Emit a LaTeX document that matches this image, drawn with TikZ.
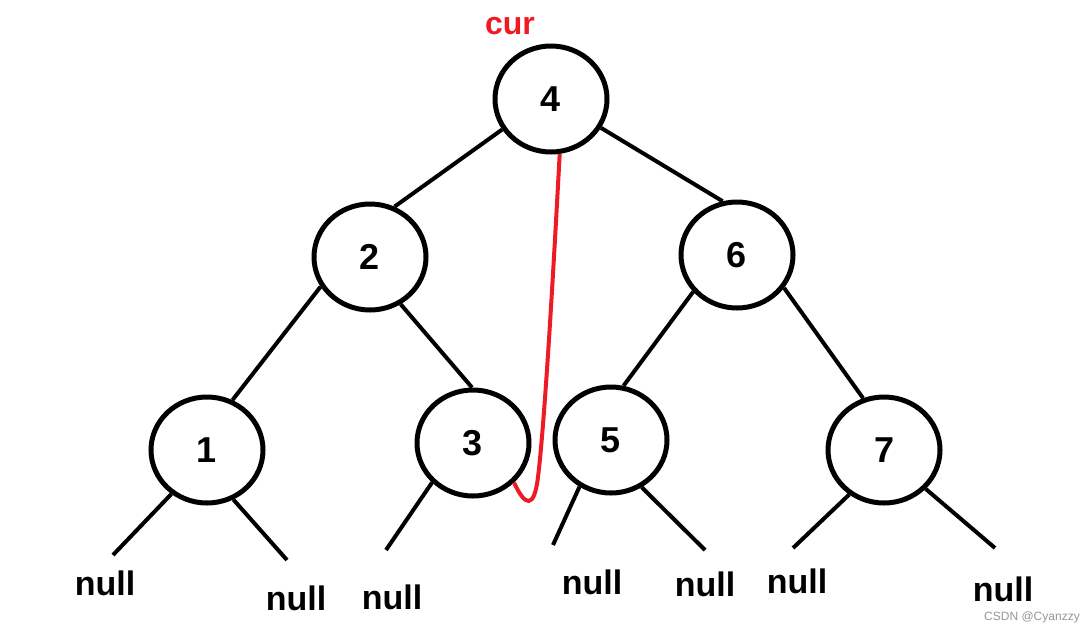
\documentclass[tikz,border=0pt]{standalone}
\usepackage{fontspec}
\setmainfont{Liberation Sans}
\usetikzlibrary{shapes.geometric}
\definecolor{curred}{RGB}{237,28,36}
\definecolor{markgray}{RGB}{150,150,150}

\begin{document}
\begin{tikzpicture}[x=1pt,y=-1pt,
  treenode/.style={ellipse,draw,line width=5pt,minimum width=112pt,minimum height=106pt,inner sep=0pt,font=\fontsize{36}{40}\selectfont\bfseries},
  nulltext/.style={inner sep=0pt,font=\fontsize{34}{38}\selectfont\bfseries},
  edge/.style={line width=4pt}]
\useasboundingbox (0,0) rectangle (1092,633);

% Tree nodes
\node [treenode] (n4) at (551,99) {4};
\node [treenode] (n2) at (370,257) {2};
\node [treenode] (n6) at (737,255) {6};
\node [treenode] (n1) at (207,450) {1};
\node [treenode] (n3) at (473,443) {\raisebox{-7pt}{3}};
\node [treenode] (n5) at (611,440) {5};
\node [treenode] (n7) at (884,450) {7};

% Text Node
\node [inner sep=0pt,text=curred,font=\fontsize{32}{36}\selectfont\bfseries] (cur) at (510,26) {cur};

% null labels
\node [nulltext] (null1) at (105,583) {null};
\node [nulltext] (null2) at (296,598) {null};
\node [nulltext] (null3) at (392,597) {null};
\node [nulltext] (null4) at (592,582) {null};
\node [nulltext] (null5) at (705,584) {null};
\node [nulltext] (null6) at (797,581) {null};
\node [nulltext] (null7) at (1003,589) {null};

% free ends of the null branches
\coordinate (e1) at (113,555);
\coordinate (e2) at (287,560);
\coordinate (e3) at (386,550);
\coordinate (e4) at (553,545);
\coordinate (e5) at (705,550);
\coordinate (e6) at (793,548);
\coordinate (e7) at (995,548);

% Straight Lines
\draw [edge] (n4.212) -- (n2.64);
\draw [edge] (n4.330) -- (n6.105);
\draw [edge] (n2.211) -- (n1.63);
\draw [edge] (n2.303) -- (n3.91);
\draw [edge] (n6.220) -- (n5.77);
\draw [edge] (n6.325) -- (n7.112);
\draw [edge] (n1.231) -- (e1);
\draw [edge] (n1.298) -- (e2);
\draw [edge] (n3.224) -- (e3);
\draw [edge] (n5.236) -- (e4);
\draw [edge] (n5.303) -- (e5);
\draw [edge] (n7.232) -- (e6);
\draw [edge] (n7.317) -- (e7);

% Curve Lines
\draw [line width=4pt,curred] (n4.-81) .. controls (554,260) and (545,420) .. (538,477) .. controls (534,510) and (525,506) .. (n3.-44);

% watermark
\node [inner sep=0pt,text=markgray,font=\fontsize{12}{14}\selectfont] (mark) at (1032,617) {CSDN @Cyanzzy};
\end{tikzpicture}
\end{document}
